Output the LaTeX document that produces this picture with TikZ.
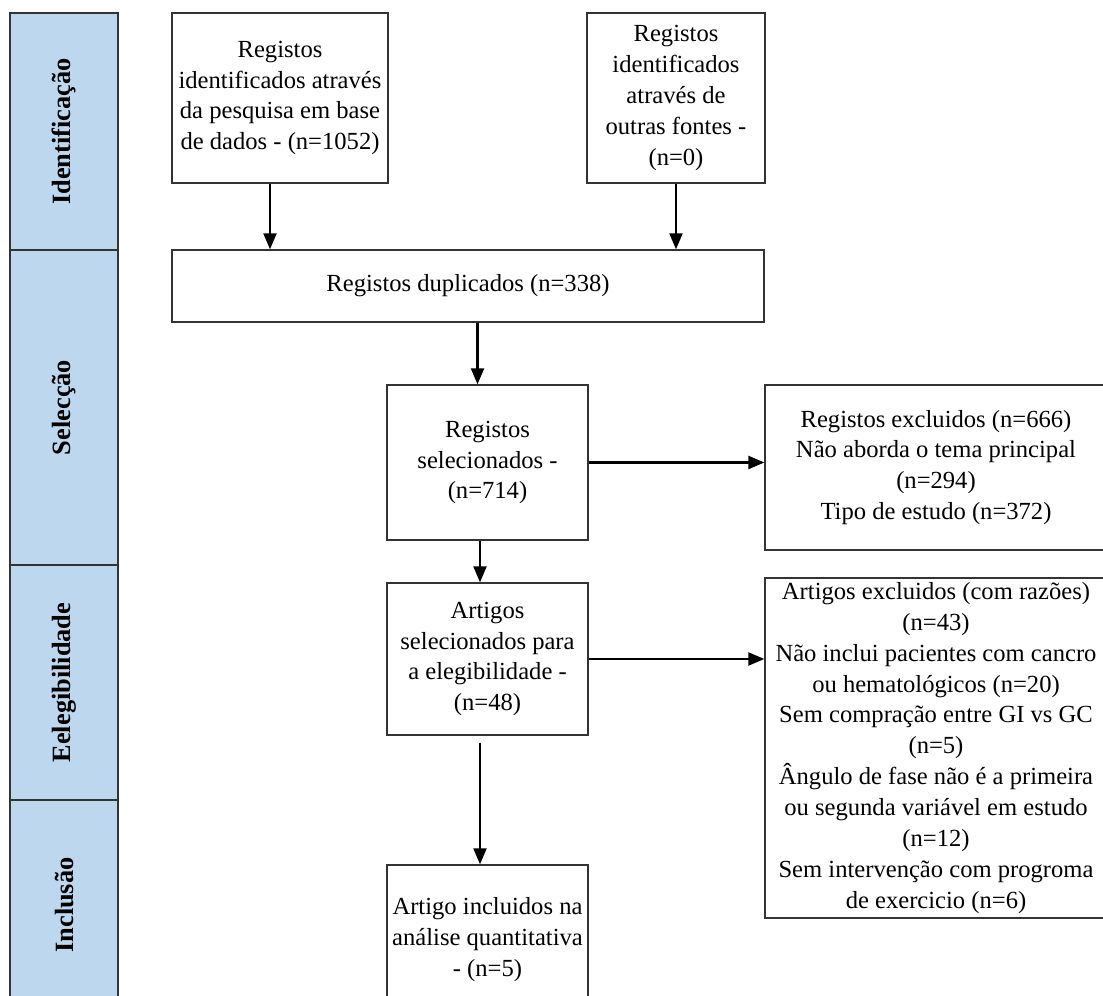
\documentclass[tikz,border=0pt]{standalone}
\usepackage{fontspec}
\setmainfont{Liberation Serif}
\usetikzlibrary{arrows.meta}
\definecolor{lanefill}{HTML}{BDD7EE}
\begin{document}
\begin{tikzpicture}
[
 x=0.02cm, y=-0.02cm,
 every node/.style={font=\fontsize{14}{17.6}\selectfont},
 inner sep=0.5mm,
 LANE/.style={rectangle, draw=black!80, fill=lanefill, line width=0.8pt, rotate=90, minimum height=2.16cm, font=\fontsize{15}{17}\selectfont\bfseries},
 BOX/.style={rectangle, draw=black!80, fill=white, line width=0.8pt, align=center, minimum width=4.02cm},
 WIDE/.style={BOX, minimum width=6.84cm},
 ARR/.style={-{Triangle[length=3.2mm, width=2.6mm]}, line width=1.3pt},
 ]
%
\useasboundingbox (0,0) rectangle (1103,996);
\clip (0,0) rectangle (1103,996);
%
\node [LANE, minimum width=4.74cm]  (LID)  at (64,131.5)  {Identificação};
\node [LANE, minimum width=6.30cm]  (LSEL) at (64,407.5)  {Selecção};
\node [LANE, minimum width=4.70cm]  (LELI) at (64,682.5)  {Eelegibilidade};
\node [LANE, minimum width=4.20cm]  (LINC) at (64,905)    {Inclusão};
%
\node [BOX, minimum width=4.32cm, minimum height=3.4cm]  (DB)    at (280,98)
      {Registos\\identificados através\\da pesquisa em base\\de dados - (n=1052)};
\node [BOX, minimum width=3.56cm, minimum height=3.4cm]  (OTHER) at (676,98)
      {Registos\\identificados\\através de\\outras fontes -\\(n=0)};
\node [BOX, minimum width=11.84cm, minimum height=1.44cm] (DUP)  at (468,286)
      {Registos duplicados (n=338)};
%
\node [BOX, minimum height=3.1cm]   (SEL)   at (487.5,462.5)
      {Registos\\selecionados -\\(n=714)};
\node [WIDE, minimum height=3.3cm]  (EXSEL) at (936,467.5)
      {Registos excluidos (n=666)\\Não aborda o tema principal\\(n=294)\\Tipo de estudo (n=372)};
%
\node [BOX, minimum height=3.04cm]  (ELI)   at (487.5,659)
      {Artigos\\selecionados para\\a elegibilidade -\\(n=48)};
\node [WIDE, minimum height=6.8cm]  (EXELI) at (936,748)
      {Artigos excluidos (com razões)\\(n=43)\\Não inclui pacientes com cancro\\ou hematológicos (n=20)\\Sem compração entre GI vs GC\\(n=5)\\Ângulo de fase não é a primeira\\ou segunda variável em estudo\\(n=12)\\Sem intervenção com progroma\\de exercicio (n=6)};
%
\node [BOX, minimum height=3.0cm]   (INC)   at (487.5,940)
      {Artigo incluidos na\\análise quantitativa\\- (n=5)};
%
\draw [ARR]  ([xshift=-0.2cm]DB.south) -- ([xshift=-0.2cm]DB.south |- DUP.north);
\draw [ARR]  (OTHER.south) -- (OTHER.south |- DUP.north);
\draw [ARR]  ([xshift=-0.2cm]SEL.north |- DUP.south) -- ([xshift=-0.2cm]SEL.north);
\draw [ARR]  ([xshift=-0.15cm]SEL.south) -- ([xshift=-0.15cm]ELI.north);
\draw [ARR, shorten <=0.14cm]  ([xshift=-0.15cm]ELI.south) -- ([xshift=-0.15cm]INC.north);
%
\draw [ARR]  (SEL.east) -- (SEL.east -| EXSEL.west);
\draw [ARR]  (ELI.east) -- (ELI.east -| EXELI.west);
%
\end{tikzpicture}
\end{document}
